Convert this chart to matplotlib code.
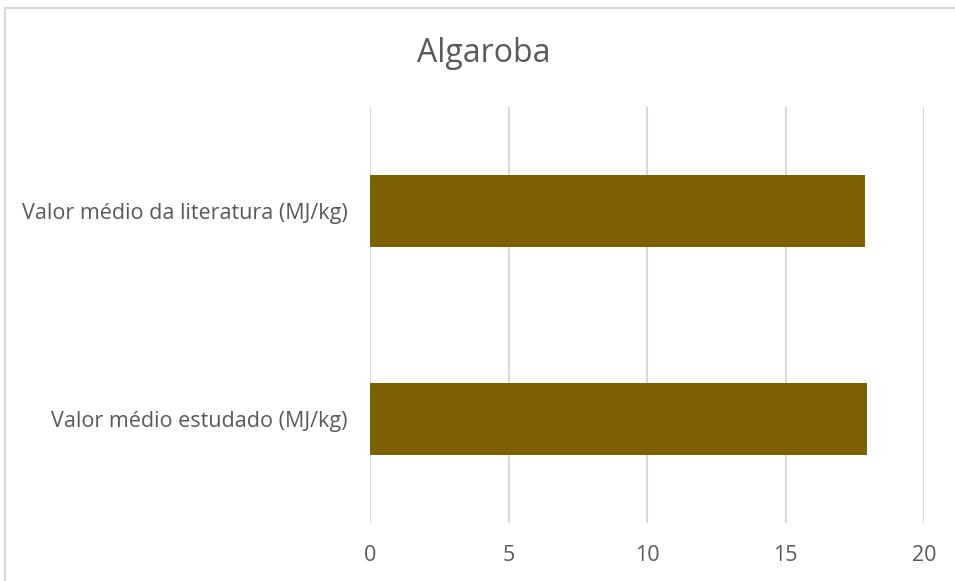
import matplotlib.pyplot as plt
from matplotlib.patches import Rectangle

categories = ['Valor médio estudado (MJ/kg)', 'Valor médio da literatura (MJ/kg)']
values = [17.93, 17.87]
x_ticks = [0, 5, 10, 15, 20]

W, H = 955, 581
plt.rcParams['font.family'] = ['Open Sans', 'DejaVu Sans']

fig = plt.figure(figsize=(W / 100, H / 100), dpi=100)
ax = fig.add_axes([370 / W, 1 - 523 / H, (924.3 - 370) / W, (523 - 107) / H])

ax.barh(range(len(categories)), values, height=0.35, color='#7f6000', zorder=3)

ax.set_xlim(0, 20)
ax.set_ylim(-0.5, len(categories) - 0.5)
ax.set_xticks(x_ticks)
ax.set_yticks(range(len(categories)))
ax.set_yticklabels(categories)
ax.tick_params(axis='both', length=0, labelsize=15.5, labelcolor='#595959')
ax.tick_params(axis='y', pad=16)
ax.tick_params(axis='x', pad=16)
ax.grid(axis='x', color='#d9d9d9', linewidth=1.5, zorder=0)
for s in ax.spines.values():
    s.set_visible(False)

fig.text(484 / W, 1 - 53 / H, 'Algaroba', ha='center', va='center',
         fontsize=23, color='#595959')

# chart frame, running off the right and bottom edges
fig.patches.append(Rectangle((5 / W, -0.1), 1.2, 1 - 8 / H + 0.1,
                             transform=fig.transFigure, fill=False,
                             edgecolor='#d9d9d9', linewidth=1.5))

fig.savefig('out.png', dpi=100)
